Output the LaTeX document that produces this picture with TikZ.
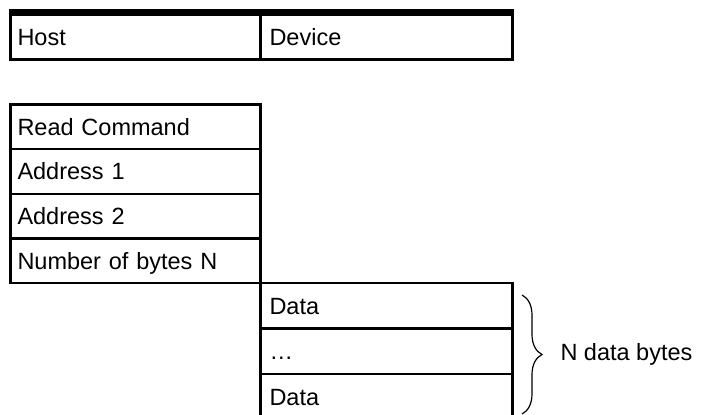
\documentclass[tikz,border=0pt]{standalone}
\usepackage{fontspec}
\setmainfont{Liberation Sans}
\usepackage{tikz}
\usetikzlibrary{decorations.pathreplacing}

\begin{document}
\begin{tikzpicture}[x=1pt,y=-1pt,font=\fontsize{23.5}{28}\selectfont,
    field/.style={draw,line width=2.4pt,outer sep=0pt,anchor=north west,align=left,
      text height=16.8pt,text depth=0pt,inner ysep=0pt},
    hostfield/.style={field,minimum width=250pt,inner xsep=7pt,text width=236pt,minimum height=44.6pt},
    devfield/.style={field,minimum width=252pt,inner xsep=9pt,text width=234pt,minimum height=45.5pt},
    bytebrace/.style={decorate,decoration={brace,amplitude=20pt},line width=1.2pt}]
      \useasboundingbox (0,0) rectangle (702,415);
      \clip (0,0) rectangle (702,415);
      % header
      \node[hostfield,minimum height=45pt] (host) at (10.5,14.5) {Host};
      \node[devfield,minimum height=45pt] (device) at (260.5,14.5) {Device};
      \draw[line width=5.7pt] ([shift={(-1.2pt,2.3pt)}]host.north west) -- ([shift={(1.2pt,2.3pt)}]device.north east);
      % host sends
      \foreach \txt [count=\i] in {Read Command,Address 1,Address 2,Number of bytes N}{
        \pgfmathsetmacro\ytop{104.5+(\i-1)*44.6}
        \node[hostfield] (cmd\i) at (10.5,\ytop) {\txt};
      }
      % device answers
      \foreach \txt [count=\i] in {Data,…,Data}{
        \pgfmathsetmacro\ytop{283+(\i-1)*45.5}
        \node[devfield] (data\i) at (260.5,\ytop) {\txt};
      }
      \coordinate (brtop) at (522,295);
      \coordinate (brbot) at (522,414);
      \draw[bytebrace] (brtop) -- (brbot);
      \node[anchor=west,inner sep=0pt,text height=16.8pt,text depth=0pt] (nbytes) at (560.3,352) {N data bytes};
    \end{tikzpicture}
\end{document}
